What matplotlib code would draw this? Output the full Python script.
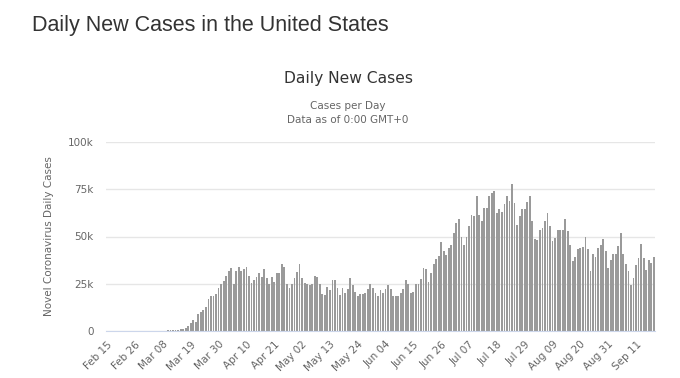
import matplotlib.pyplot as plt
import pandas as pd

# daily new cases, one value per day starting Feb 15
feb_mar = [0, 0, 0, 0, 0, 0, 2, 0, 0, 18, 0, 6, 1, 1, 9,
           7, 20, 24, 27, 69, 57, 133, 117, 204, 289, 356, 427, 621, 710]
wave1 = [900, 1200, 1800, 2800, 4400, 5600, 4800, 8800, 10200, 11100,
         12800, 17000, 18300, 18300, 19400, 22500, 25000, 26400, 29000, 32000,
         33500, 25000, 31500, 34000, 32000, 33000, 33600, 29000, 25500, 27000,
         28400, 30500, 28700, 32600, 27800, 24800, 28700, 26000, 30500, 30500,
         35700, 34000, 24800]
may_jun = [23000, 25000, 28000, 31000, 35400, 28300, 25500, 25000, 24600, 24800,
           29000, 28500, 25000, 19500, 19000, 23400, 21600, 27000, 27000, 22700,
           19000, 23000, 20200, 22200, 28000, 24300, 20400, 18700, 19400, 19500,
           20200, 22200, 24800, 22700, 19900, 18500, 21600, 19900, 22200, 24500,
           22200, 18700, 18700, 18700, 20200, 22400, 26800, 25000, 19900, 20400,
           25000, 25000, 27300, 33300, 32700, 25700, 30600, 35400, 38000, 39800,
           47000, 42400, 40000, 44000, 45400, 51600, 57000]
jul_sep = [59000, 49500, 45400, 50000, 55400, 61600, 61000, 71500, 61600, 58300,
           65300, 65300, 71500, 73000, 74300, 62500, 64800, 62700, 67000, 71500,
           69000, 77800, 67800, 56000, 61000, 64400, 64400, 68000, 71500, 58000,
           48600, 48000, 53300, 54600, 58000, 62500, 55400, 47500, 49000, 53300,
           53300, 53700, 59000, 53000, 45400, 37000, 39200, 43600, 44000, 44500,
           49500, 43600, 32000, 40500, 39200, 44000, 45400, 48600, 42200, 33400,
           37800, 41000, 40600, 45000, 52000, 41000, 35700, 31700, 24600, 28000,
           35000, 38400, 45800, 38700, 32500, 37500, 36000, 39200]

cases = feb_mar + wave1 + may_jun + jul_sep
dates = pd.date_range('2020-02-15', periods=len(cases), freq='D')

tick_labels = ['Feb 15', 'Feb 26', 'Mar 08', 'Mar 19', 'Mar 30', 'Apr 10', 'Apr 21',
               'May 02', 'May 13', 'May 24', 'Jun 04', 'Jun 15', 'Jun 26', 'Jul 07',
               'Jul 18', 'Jul 29', 'Aug 09', 'Aug 20', 'Aug 31', 'Sep 11']
y_ticks = [0, 25000, 50000, 75000, 100000]
y_labels = ['0', '25k', '50k', '75k', '100k']

fig = plt.figure(figsize=(6.8, 3.78), dpi=100)
ax = fig.add_axes([106 / 680, 1 - 331 / 378, 549 / 680, 189 / 378])

pos = list(range(len(cases)))
ax.bar(pos, cases, width=0.72, color='#9a9a9a', linewidth=0, zorder=2)

tick_pos = [dates.get_loc(pd.Timestamp(pd.to_datetime(t + ' 2020', format='%b %d %Y')))
            for t in tick_labels]
ax.set_xticks(tick_pos)
ax.set_xticklabels(tick_labels, rotation=45, ha='right', rotation_mode='anchor',
                   fontsize=7.5, color='#666666', family='DejaVu Sans')
ax.set_xlim(-0.5, len(cases) - 0.5)

ax.set_ylim(0, 100000)
ax.set_yticks(y_ticks)
ax.set_yticklabels(y_labels, fontsize=7.5, color='#666666', family='DejaVu Sans')
ax.tick_params(axis='both', length=0)
ax.tick_params(axis='y', pad=9)
ax.tick_params(axis='x', pad=6)

ax.grid(axis='y', color='#e6e6e6', linewidth=1, zorder=0)
for s in ['top', 'right', 'left']:
    ax.spines[s].set_visible(False)
ax.spines['bottom'].set_color('#ccd6eb')
ax.spines['bottom'].set_zorder(3)

ax.set_ylabel('Novel Coronavirus Daily Cases', fontsize=7.5, color='#666666',
              family='DejaVu Sans', labelpad=10)

fig.text(32 / 680, 1 - 25 / 378, 'Daily New Cases in the United States', fontsize=15.5,
         color='#333333', family='Liberation Sans', va='center', ha='left')
fig.text(348 / 680, 1 - 79 / 378, 'Daily New Cases', fontsize=11.2, color='#333333',
         family='DejaVu Sans', va='center', ha='center')
fig.text(348 / 680, 1 - 106 / 378, 'Cases per Day', fontsize=7.5, color='#666666',
         family='DejaVu Sans', va='center', ha='center')
fig.text(348 / 680, 1 - 120 / 378, 'Data as of 0:00 GMT+0', fontsize=7.5, color='#666666',
         family='DejaVu Sans', va='center', ha='center')

fig.savefig('out.png', dpi=100, facecolor='white')
